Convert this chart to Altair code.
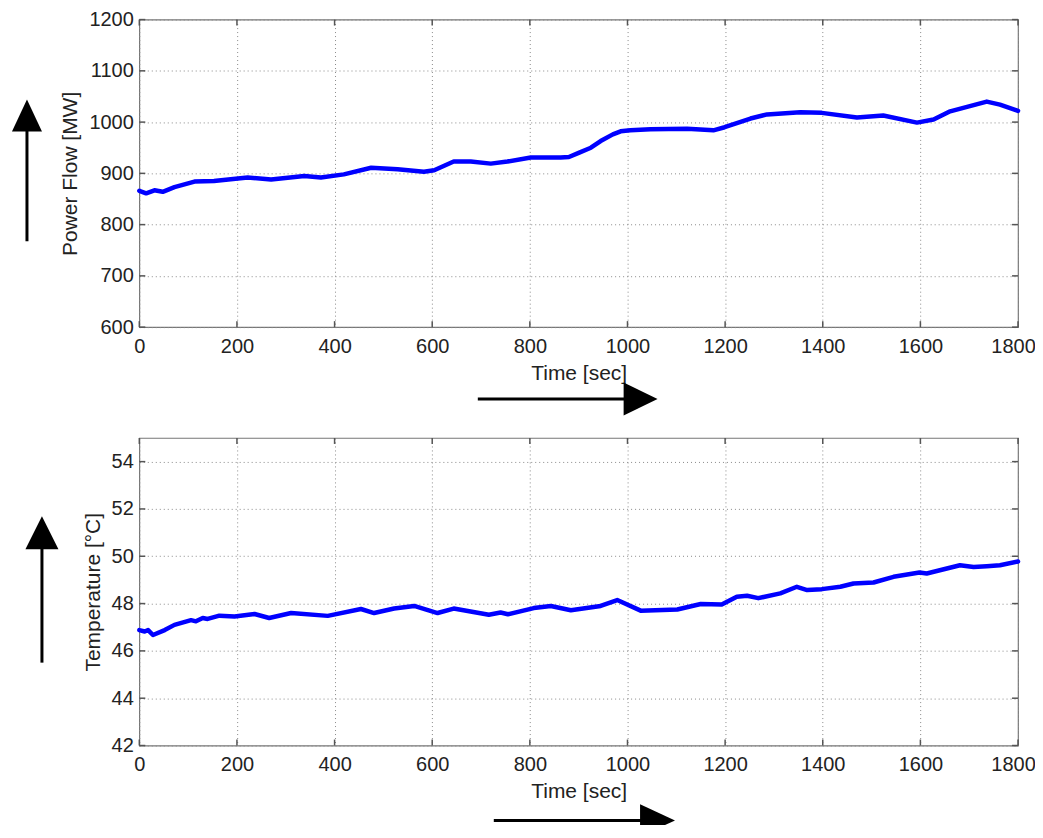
import altair as alt
import pandas as pd

# ---- data ----
time_flow = [0, 14, 31, 48, 72, 113, 153, 202, 222, 270, 338, 372, 419, 475, 529, 583, 604,
             644, 679, 720, 754, 802, 863, 880, 900, 925, 945, 970, 986, 1006, 1047, 1122,
             1176, 1199, 1252, 1286, 1354, 1398, 1470, 1524, 1593, 1627, 1661, 1736, 1763, 1800]
power_flow = [866, 861, 867, 864, 873, 884, 885, 890, 892, 888, 895, 892, 898, 911, 908, 903, 906,
              923, 923, 919, 923, 931, 931, 932, 940, 950, 963, 976, 982, 984, 986, 987,
              984, 990, 1007, 1015, 1019, 1018, 1009, 1013, 999, 1005, 1021, 1040, 1034, 1022]

time_temp = [0, 11, 18, 28, 52, 72, 106, 116, 130, 140, 164, 195, 236, 266, 311, 386, 454, 481,
             522, 563, 611, 644, 716, 740, 755, 808, 843, 884, 945, 979, 1027, 1102, 1150, 1193,
             1224, 1245, 1268, 1313, 1347, 1368, 1398, 1436, 1463, 1504, 1545, 1598, 1613, 1681,
             1709, 1736, 1763, 1800]
temperature = [46.88, 46.82, 46.88, 46.67, 46.88, 47.10, 47.30, 47.25, 47.39, 47.35, 47.49, 47.45,
               47.56, 47.39, 47.60, 47.48, 47.77, 47.60, 47.79, 47.90, 47.60, 47.79, 47.53, 47.62,
               47.55, 47.81, 47.90, 47.72, 47.90, 48.15, 47.70, 47.75, 47.98, 47.96, 48.29, 48.33,
               48.23, 48.43, 48.71, 48.57, 48.61, 48.71, 48.85, 48.89, 49.13, 49.31, 49.27, 49.62,
               49.55, 49.58, 49.62, 49.78]

x_ticks = [0, 200, 400, 600, 800, 1000, 1200, 1400, 1600, 1800]
flow_ticks = [600, 700, 800, 900, 1000, 1100, 1200]
temp_ticks = [42, 44, 46, 48, 50, 52, 54]

W, H = 880, 308
FONT = "Liberation Sans"


def panel(t, v, ytitle, ydomain, yticks, varrow, harrow):
    df = pd.DataFrame({"t": t, "v": v})
    xenc = alt.X("t:Q", scale=alt.Scale(domain=[0, 1800], nice=False, zero=False),
                 axis=alt.Axis(values=x_ticks, title="Time [sec]", format="d",
                               labelOffset={"condition": {"test": "datum.value == 1800",
                                                          "value": -5}, "value": 0}))
    yenc = alt.Y("v:Q", scale=alt.Scale(domain=ydomain, nice=False, zero=False),
                 axis=alt.Axis(values=yticks, title=ytitle, format="d"))
    line = alt.Chart(df).mark_line(color="#0000ff", strokeWidth=4.5, strokeJoin="round",
                                   strokeCap="round").encode(x=xenc, y=yenc)
    xt = pd.DataFrame({"t": x_ticks})
    yt = pd.DataFrame({"v": yticks})
    ts = dict(color="#555555", strokeWidth=1.5)
    bt = alt.Chart(xt).mark_rule(**ts).encode(x=xenc, y=alt.value(H), y2=alt.value(H - 6))
    tt = alt.Chart(xt).mark_rule(**ts).encode(x=xenc, y=alt.value(0), y2=alt.value(6))
    lt = alt.Chart(yt).mark_rule(**ts).encode(y=yenc, x=alt.value(0), x2=alt.value(6))
    rt = alt.Chart(yt).mark_rule(**ts).encode(y=yenc, x=alt.value(W - 6), x2=alt.value(W))

    one = pd.DataFrame({"k": [0]})
    vx, vy1, vy2, vcy, vsize, vpath = varrow
    hx1, hx2, hy, hcx, hsize, hpath = harrow
    v_line = alt.Chart(one).mark_rule(color="black", strokeWidth=3).encode(
        x=alt.value(vx), y=alt.value(vy1), y2=alt.value(vy2))
    v_head = alt.Chart(one).mark_point(shape=vpath, filled=True, opacity=1, color="black",
                                       size=vsize, strokeWidth=0).encode(
        x=alt.value(vx), y=alt.value(vcy))
    h_line = alt.Chart(one).mark_rule(color="black", strokeWidth=3).encode(
        x=alt.value(hx1), x2=alt.value(hx2), y=alt.value(hy))
    h_head = alt.Chart(one).mark_point(shape=hpath, filled=True, opacity=1, color="black",
                                       size=hsize, strokeWidth=0).encode(
        x=alt.value(hcx), y=alt.value(hy))
    return alt.layer(line, bt, tt, lt, rt, v_line, v_head, h_line, h_head).properties(
        width=W, height=H)


top = panel(time_flow, power_flow, "Power Flow [MW]", [600, 1200], flow_ticks,
            (-112.5, 222, 110, 96, 1024, "M-0.94,1L0,-1L0.94,1Z"),
            (339, 488, 380, 502, 1156, "M-1,-0.97L1,0L-1,0.97Z"))
bottom = panel(time_temp, temperature, "Temperature [°C]", [42, 55], temp_ticks,
               (-97.5, 225, 110, 95, 1089, "M-1,1L0,-1L1,1Z"),
               (355, 505, 383, 519, 1225, "M-1,-0.92L1,0L-1,0.92Z"))

chart = alt.vconcat(top, bottom, spacing=111, bounds="flush").properties(
    padding={"left": 2.5, "top": 0, "right": -1, "bottom": -13}
).configure_view(
    stroke="#777777", strokeWidth=1.2
).configure_axis(
    labelFont=FONT, titleFont=FONT, labelFontSize=20, titleFontSize=21,
    titleFontWeight="normal", labelColor="#222222", titleColor="#222222",
    grid=True, gridDash=[1, 3], gridColor="#8a8a8a", gridWidth=1,
    domain=False, ticks=False, labelFlush=False, labelOverlap=False
).configure_axisX(
    labelPadding=9, titlePadding=6
).configure_axisY(
    labelPadding=6, titlePadding=8
)

chart.save("out.html", embed_options={"renderer": "svg", "actions": False})
